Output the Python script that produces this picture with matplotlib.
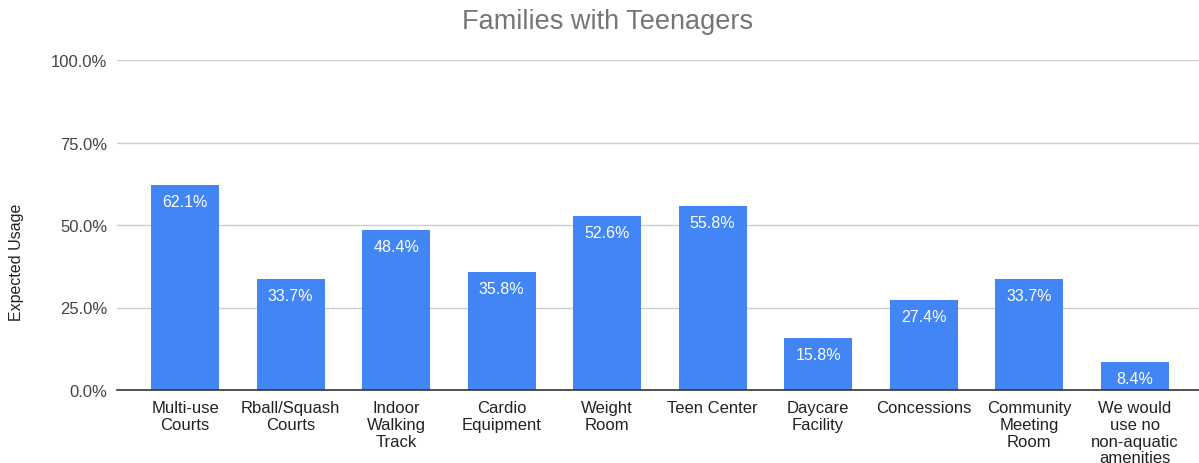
import matplotlib
matplotlib.use("Agg")
import matplotlib.pyplot as plt
from matplotlib.ticker import FuncFormatter

categories = ["Multi-use\nCourts", "Rball/Squash\nCourts", "Indoor\nWalking\nTrack",
              "Cardio\nEquipment", "Weight\nRoom", "Teen Center", "Daycare\nFacility",
              "Concessions", "Community\nMeeting\nRoom", "We would\nuse no\nnon-aquatic\namenities"]
values = [62.1, 33.7, 48.4, 35.8, 52.6, 55.8, 15.8, 27.4, 33.7, 8.4]
yticks = [0, 25, 50, 75, 100]

plt.rcParams['font.family'] = ['Liberation Sans', 'DejaVu Sans']

fig = plt.figure(figsize=(11.99, 4.64), dpi=100)
ax = fig.add_axes([117/1199, 1 - 391/464, 1 - 117/1199, (391 - 61)/464])

x = list(range(len(categories)))
ax.bar(x, values, width=0.645, color="#4285F4", zorder=3)
for xi, v in zip(x, values):
    ax.annotate(f"{v:.1f}%", (xi, v), xytext=(0, -6.5), textcoords="offset points",
                ha="center", va="top", color="white", fontsize=11.5, zorder=4)

ax.set_xlim(-0.645, len(categories) - 1 + 0.61)
ax.set_ylim(0, 100)
ax.set_yticks(yticks)
ax.yaxis.set_major_formatter(FuncFormatter(lambda v, p: f"{v:.1f}%"))
ax.set_xticks(x)
ax.set_xticklabels(categories, fontsize=12, color="#222222", linespacing=1.13)
ax.tick_params(axis='both', length=0, labelsize=12, labelcolor="#444444")
ax.tick_params(axis='x', pad=7.5, labelcolor="#222222")
ax.tick_params(axis='y', pad=7)
ax.grid(axis='y', color="#cccccc", linewidth=1, zorder=0)
for s in ["top", "right", "left"]:
    ax.spines[s].set_visible(False)
ax.spines["bottom"].set_color("#333333")
ax.spines["bottom"].set_linewidth(1.2)
ax.spines["bottom"].set_zorder(5)

fig.text(17/1199, 1 - 262/464, "Expected Usage", rotation=90, ha="center", va="center",
         fontsize=11.5, color="#222222")

fig.text(608/1199, 1 - 22/464, "Families with Teenagers", ha="center", va="center",
         fontsize=19.5, color="#757575")

fig.savefig("out.png", dpi=100)
